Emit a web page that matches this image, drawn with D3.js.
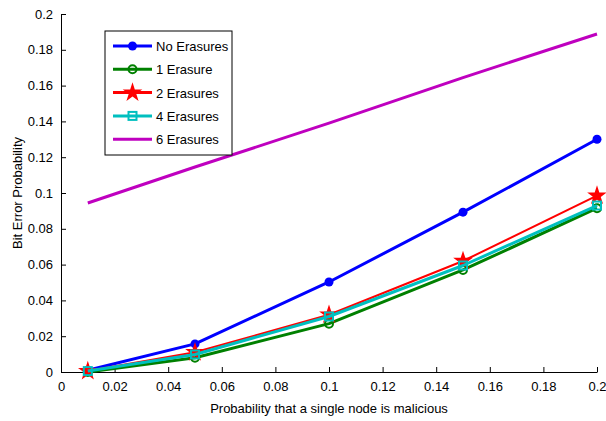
<!DOCTYPE html>
<html lang="en">
<head>
  <meta charset="UTF-8">
  <title>Bit Error Probability</title>
  <script src="https://d3js.org/d3.v7.min.js"></script>
  <style>
    body { margin: 0; background: #fff; }
    text { font-family: "Liberation Sans", Arial, sans-serif; fill: #000; }
    .axis path, .axis line { stroke: #000; stroke-width: 1; }
    .axis text { font-size: 13px; }
  </style>
</head>
<body>
  <svg width="606" height="421"></svg>

  <script>
    const xValues = [0.01, 0.05, 0.1, 0.15, 0.2];
    const noErasures = [0.001, 0.0157, 0.0503, 0.0893, 0.130];
    const oneErasure = [0.0, 0.008, 0.027, 0.057, 0.0915];
    const twoErasures = [0.0005, 0.011, 0.032, 0.062, 0.0985];
    const fourErasures = [0.0005, 0.0098, 0.031, 0.0595, 0.093];
    const sixErasures = [0.0944, 0.1145, 0.139, 0.1645, 0.1888];
    const xTicks = [0, 0.02, 0.04, 0.06, 0.08, 0.1, 0.12, 0.14, 0.16, 0.18, 0.2];
    const yTicks = [0, 0.02, 0.04, 0.06, 0.08, 0.1, 0.12, 0.14, 0.16, 0.18, 0.2];

    const series = [
      { name: "No Erasures", values: noErasures, color: "#0000ff", width: 3, marker: "dot" },
      { name: "1 Erasure", values: oneErasure, color: "#008000", width: 3, marker: "circle" },
      { name: "2 Erasures", values: twoErasures, color: "#ff0000", width: 2, marker: "star" },
      { name: "4 Erasures", values: fourErasures, color: "#00bfbf", width: 3, marker: "square" },
      { name: "6 Erasures", values: sixErasures, color: "#bf00bf", width: 3, marker: "none" }
    ];

    const margin = { left: 61, right: 9, top: 14, bottom: 49 };
    const width = 606, height = 421;
    const svg = d3.select("svg");

    const x = d3.scaleLinear().domain([0, 0.2]).range([margin.left, width - margin.right]);
    const y = d3.scaleLinear().domain([0, 0.2]).range([height - margin.bottom, margin.top]);

    const fmt = d => d === 0 ? "0" : String(+d.toFixed(2));

    svg.append("g")
      .attr("class", "axis")
      .attr("transform", `translate(0,${y(0)})`)
      .call(d3.axisBottom(x).tickValues(xTicks).tickFormat(fmt).tickSizeInner(-5).tickSizeOuter(0).tickPadding(10));

    svg.append("g")
      .attr("class", "axis")
      .attr("transform", `translate(${x(0)},0)`)
      .call(d3.axisLeft(y).tickValues(yTicks).tickFormat(fmt).tickSizeInner(-5).tickSizeOuter(0).tickPadding(8));

    svg.append("text")
      .attr("x", (x(0) + x(0.2)) / 2)
      .attr("y", 413)
      .attr("text-anchor", "middle")
      .style("font-size", "13px")
      .text("Probability that a single node is malicious");

    svg.append("text")
      .attr("transform", `translate(22,${(y(0) + y(0.2)) / 2}) rotate(-90)`)
      .attr("text-anchor", "middle")
      .style("font-size", "13px")
      .text("Bit Error Probability");

    const line = d3.line().x((d, i) => x(xValues[i])).y(d => y(d));

    function drawMarker(g, s, cx, cy) {
      if (s.marker === "dot") {
        g.append("circle").attr("cx", cx).attr("cy", cy).attr("r", 4.5).attr("fill", s.color);
      } else if (s.marker === "circle") {
        g.append("circle").attr("cx", cx).attr("cy", cy).attr("r", 4)
          .attr("fill", "none").attr("stroke", s.color).attr("stroke-width", 2);
      } else if (s.marker === "star") {
        g.append("path").attr("d", d3.symbol(d3.symbolStar, 120)())
          .attr("transform", `translate(${cx},${cy})`).attr("fill", s.color);
      } else if (s.marker === "square") {
        g.append("rect").attr("x", cx - 4).attr("y", cy - 4).attr("width", 8).attr("height", 8)
          .attr("fill", "none").attr("stroke", s.color).attr("stroke-width", 2);
      }
    }

    const plot = svg.append("g");
    series.forEach(s => {
      const g = plot.append("g");
      g.append("path")
        .datum(s.values)
        .attr("d", line)
        .attr("fill", "none")
        .attr("stroke", s.color)
        .attr("stroke-width", s.width)
        .attr("stroke-linejoin", "round");
      s.values.forEach((v, i) => drawMarker(g, s, x(xValues[i]), y(v)));
    });

    // legend
    const legend = svg.append("g").attr("transform", "translate(105,31)");
    legend.append("rect")
      .attr("width", 127).attr("height", 124)
      .attr("fill", "#fff").attr("stroke", "#000").attr("stroke-width", 1);
    series.forEach((s, i) => {
      const ly = 15 + i * 23.3;
      legend.append("line")
        .attr("x1", 8).attr("x2", 47).attr("y1", ly).attr("y2", ly)
        .attr("stroke", s.color).attr("stroke-width", s.width === 2 ? 3 : s.width);
      drawMarker(legend, s, 27.5, ly);
      legend.append("text")
        .attr("x", 51).attr("y", ly + 5)
        .style("font-size", "13px")
        .text(s.name);
    });
  </script>
</body>
</html>
